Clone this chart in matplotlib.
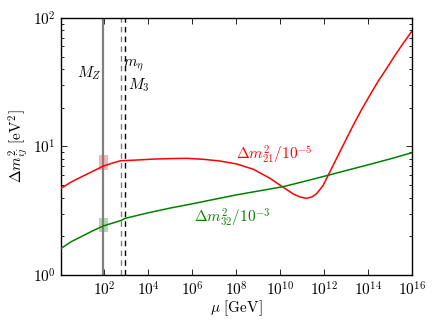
import numpy as np
import matplotlib
matplotlib.use("Agg")
import matplotlib.pyplot as plt
from matplotlib.ticker import FixedLocator, FuncFormatter, LogLocator, NullLocator

plt.rcParams['mathtext.fontset'] = 'cm'
plt.rcParams['font.family'] = 'DejaVu Serif'

# log10(mu/GeV) and values
red_logmu = [0.03, 0.5, 1.0, 1.5, 1.96, 2.4, 2.74, 3.0, 3.5, 4.23, 5.0, 5.75, 6.5,
             7.26, 8.02, 8.78, 9.54, 10.07, 10.6, 10.9, 11.18, 11.45, 11.66, 11.8, 11.96,
             12.19, 12.45, 12.72, 13.0, 13.33, 13.7, 14.09, 14.45, 14.85, 15.2, 15.6, 16.0]
red_vals = [4.73, 5.3, 5.85, 6.45, 7.05, 7.45, 7.75, 7.78, 7.85, 7.98, 8.05, 8.09, 7.95,
            7.71, 7.31, 6.65, 5.65, 4.9, 4.27, 4.05, 3.95, 4.05, 4.3, 4.6, 5.0,
            6.0, 7.36, 9.11, 11.35, 14.7, 19.3, 25.2, 32.0, 40.6, 50.4, 63.6, 79.2]

green_logmu = [0.03, 0.5, 1.0, 1.5, 1.96, 2.74, 2.95, 4.0, 5.0, 6.0, 7.0, 8.0, 9.0,
               10.14, 11.0, 12.23, 13.0, 14.0, 15.0, 16.0]
green_vals = [1.61, 1.82, 2.01, 2.22, 2.41, 2.65, 2.76, 3.05, 3.32, 3.58, 3.88, 4.2, 4.5,
              4.87, 5.3, 6.0, 6.5, 7.2, 8.0, 8.95]

# scales (GeV)
M_Z = 91.19
m_eta = 550.0
M_3 = 900.0

# experimental bands at M_Z
red_band = [6.56, 8.63]
green_band = [2.17, 2.78]

x_tick_exps = [2, 4, 6, 8, 10, 12, 14, 16]
y_tick_exps = [0, 1, 2]

fig = plt.figure(figsize=(4.36, 3.27), dpi=100)
ax = fig.add_axes([0.140, 0.159, 0.805, 0.786])

ax.set_xscale('log')
ax.set_yscale('log')
ax.set_xlim(10**0.03, 1e16)
ax.set_ylim(1, 100)

red_mu = [10**v for v in red_logmu]
green_mu = [10**v for v in green_logmu]

# bands
bw = 10**0.19
ax.fill_between([M_Z / bw, M_Z * bw], red_band[0], red_band[1], color='red', alpha=0.3, lw=0, zorder=1)
ax.fill_between([M_Z / bw, M_Z * bw], green_band[0], green_band[1], color='green', alpha=0.3, lw=0, zorder=1)

ax.axvline(M_Z, color='0.5', lw=1.6, zorder=2)
ax.axvline(m_eta, color='0.5', lw=1.0, ls=(0, (4, 3)), zorder=2)
ax.axvline(M_3, color='black', lw=1.0, ls=(0, (4, 3)), zorder=2)

ax.plot(red_mu, red_vals, color='red', lw=1.1, zorder=3)
ax.plot(green_mu, green_vals, color='green', lw=1.1, zorder=3)

ax.text(10**1.33, 10**1.57, r'$M_Z$', fontsize=11, ha='center', va='center')
ax.text(10**3.3, 10**1.626, r'$m_\eta$', fontsize=11, ha='center', va='center')
ax.text(10**3.55, 10**1.479, r'$M_3$', fontsize=11, ha='center', va='center')
ax.text(10**9.75, 10**0.934, r'$\Delta m^2_{21}/10^{-5}$', fontsize=11, color='red', ha='center', va='center')
ax.text(10**7.8, 10**0.444, r'$\Delta m^2_{32}/10^{-3}$', fontsize=11, color='green', ha='center', va='center')

ax.set_xlabel(r'$\mu\ [\mathrm{GeV}]$', fontsize=11, labelpad=0)
ax.set_ylabel(r'$\Delta m^2_{ij}\ [\mathrm{eV}^2]$', fontsize=11, labelpad=2)

ax.xaxis.set_major_locator(FixedLocator([10.0**e for e in x_tick_exps]))
ax.xaxis.set_minor_locator(NullLocator())
ax.yaxis.set_major_locator(FixedLocator([10.0**e for e in y_tick_exps]))
ax.yaxis.set_minor_locator(LogLocator(base=10, subs=np.arange(2, 10)))
fmt = FuncFormatter(lambda v, p: r'$10^{%d}$' % int(round(np.log10(v))))
ax.xaxis.set_major_formatter(fmt)
ax.yaxis.set_major_formatter(fmt)
ax.tick_params(which='both', direction='in', top=True, right=True, labelsize=11)
ax.tick_params(which='major', length=4, width=0.6, pad=4)
ax.tick_params(which='minor', length=2, width=0.6)
for s in ax.spines.values():
    s.set_linewidth(1.0)

fig.savefig('out.png', dpi=100)
